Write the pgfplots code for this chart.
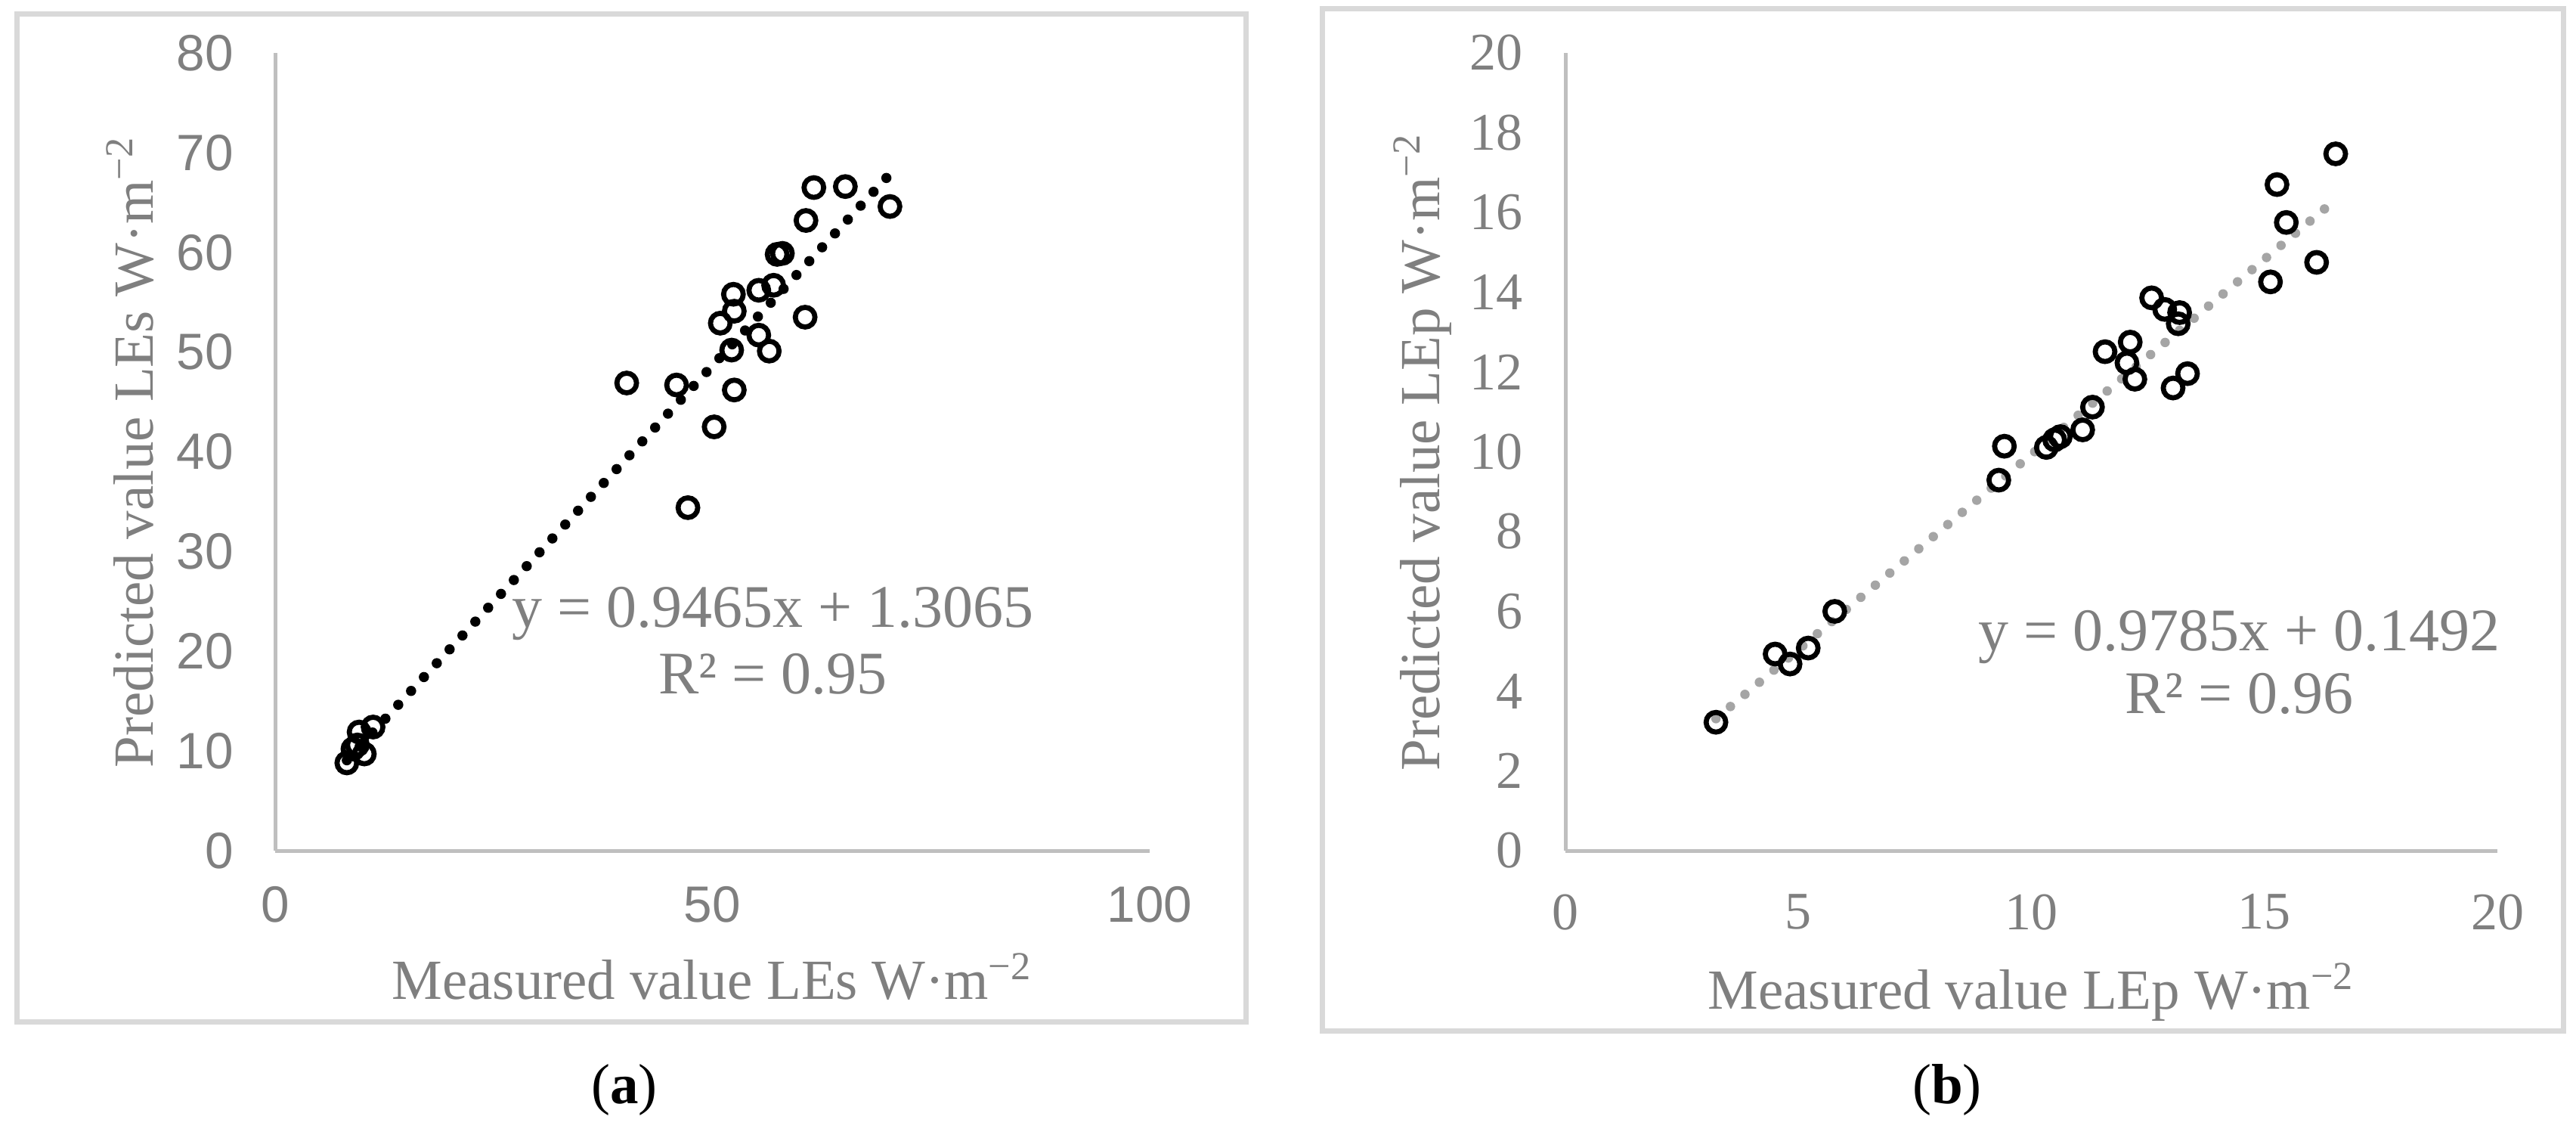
\documentclass[border=0pt]{standalone}
\usepackage{fontspec}
\setmainfont{Liberation Serif}
\newfontfamily\tickfont{Liberation Sans}
\usepackage{pgfplots}
\pgfplotsset{compat=1.18}
\definecolor{TxtGray}{HTML}{7F7F7F}
\definecolor{AxGray}{HTML}{BFBFBF}
\definecolor{Frame}{HTML}{D9D9D9}
\definecolor{TrendGray}{HTML}{A5A5A5}

\pgfplotsset{
  panel/.style={
    scale only axis, height=211pt,
    axis lines*=left,
    axis line style={AxGray,line width=1pt},
    major tick length=0pt,
    tick label style={TxtGray},
    label style={TxtGray,font=\fontsize{15}{17}\selectfont},
    /pgf/number format/assume math mode=true,
    clip=false,
  },
  pts/.style={only marks, mark=o, mark size=2.6pt, mark options={black,line width=1.35pt}},
}

\begin{document}
\begin{tikzpicture}
\path[use as bounding box] (0,0) rectangle (681.6pt,300.8pt);
\draw[Frame,line width=1.4pt] (4.4pt,30.6pt) rectangle (329.6pt,297pt);
\draw[Frame,line width=1.4pt] (349.8pt,28.2pt) rectangle (678.2pt,298.4pt);

% (a) LEs
\begin{axis}[panel, at={(72.8pt,75.8pt)}, anchor=south west, width=231.4pt,
  xmin=0, xmax=100, ymin=0, ymax=80,
  xtick={0,50,100}, ytick={0,10,...,80},
  ticklabel style={font=\tickfont\fontsize{13.5}{15}\selectfont},
  xticklabel style={yshift=-6pt}, yticklabel style={xshift=-7.5pt},
  xlabel={Measured value LEs W·m\textsuperscript{−2}},
  ylabel={Predicted value LEs W·m\textsuperscript{−2}},
  xlabel style={at={(axis description cs:0.5,-0.186)},anchor=base},
  ylabel style={at={(axis description cs:-0.14,0.5)},anchor=base}]
\addplot[pts] coordinates {
  (8.2,8.8) (8.9,10.2) (9.4,10.6) (9.6,11.9) (10.2,9.7) (11.2,12.4)
  (40.2,46.9) (45.9,46.7) (47.2,34.4) (50.2,42.5) (52.5,46.2) (52.2,50.2)
  (50.9,52.9) (52.5,54.1) (52.4,55.8) (55.3,51.7) (56.5,50.1) (55.3,56.2)
  (57.0,56.7) (57.4,59.8) (58.0,59.9) (60.6,53.5) (60.7,63.2) (61.6,66.5)
  (65.2,66.6) (70.3,64.6)};
\addplot[black, line width=2.7pt, line cap=round, dash pattern=on 0pt off 5pt]
  coordinates {(8.2,9.068) (70.3,67.85)};
\node[TxtGray, font=\fontsize{16}{18}\selectfont] at (axis cs:56.9,23.8) {y = 0.9465x + 1.3065};
\node[TxtGray, font=\fontsize{16}{18}\selectfont] at (axis cs:56.9,17.7) {R² = 0.95};
\end{axis}

% (b) LEp
\begin{axis}[panel, at={(414.2pt,75.8pt)}, anchor=south west, width=246.6pt,
  xmin=0, xmax=20, ymin=0, ymax=20,
  xtick={0,5,...,20}, ytick={0,2,...,20},
  ticklabel style={font=\fontsize{14}{16}\selectfont},
  xticklabel style={yshift=-8pt}, yticklabel style={xshift=-7.7pt},
  xlabel={Measured value LEp W·m\textsuperscript{−2}},
  ylabel={Predicted value LEp W·m\textsuperscript{−2}},
  xlabel style={at={(axis description cs:0.5,-0.199)},anchor=base},
  ylabel style={at={(axis description cs:-0.135,0.5)},anchor=base}]
\addplot[pts] coordinates {
  (3.23,3.22) (4.50,4.93) (4.82,4.68) (5.21,5.08) (5.78,6.00)
  (9.30,9.29) (9.42,10.14) (10.32,10.11) (10.50,10.30) (10.62,10.38)
  (11.10,10.55) (11.31,11.12) (11.58,12.51) (12.05,12.23) (12.12,12.75)
  (12.22,11.82) (12.58,13.86) (12.86,13.57) (13.18,13.49) (13.15,13.21)
  (13.04,11.60) (13.35,11.96) (15.13,14.26) (15.27,16.70) (15.47,15.75)
  (16.12,14.75) (16.53,17.47)};
\addplot[TrendGray, line width=2.5pt, line cap=round, dash pattern=on 0pt off 5pt]
  coordinates {(3.23,3.310) (16.53,16.324)};
\node[TxtGray, font=\fontsize{16}{18}\selectfont] at (axis cs:14.46,5.35) {y = 0.9785x + 0.1492};
\node[TxtGray, font=\fontsize{16}{18}\selectfont] at (axis cs:14.46,3.94) {R² = 0.96};
\end{axis}

\node[font=\fontsize{15}{17}\selectfont] at (165.2pt,12.6pt) {(\textbf{a})};
\node[font=\fontsize{15}{17}\selectfont] at (515.2pt,12.6pt) {(\textbf{b})};
\end{tikzpicture}
\end{document}
